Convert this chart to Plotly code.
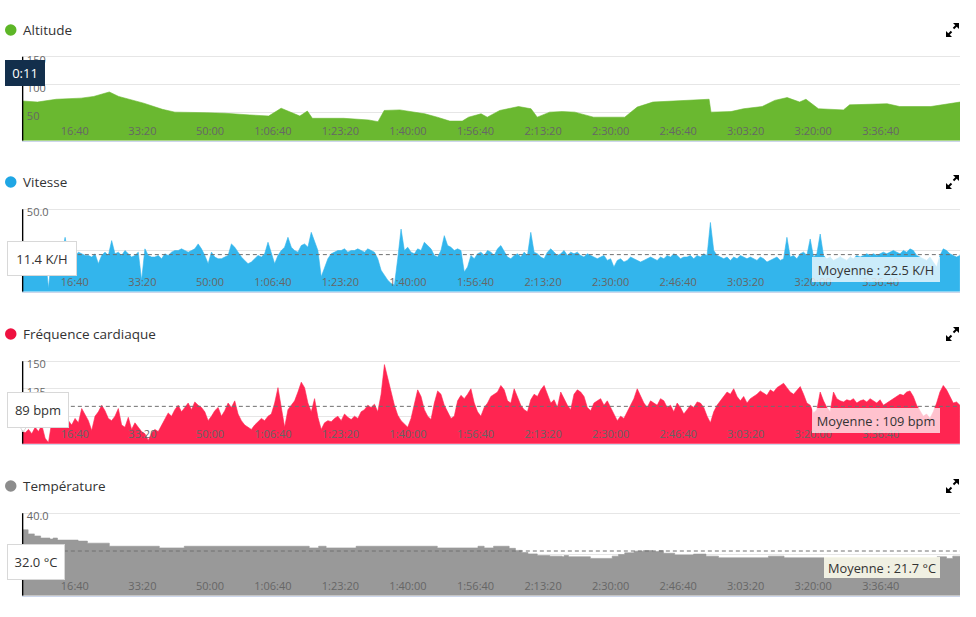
import plotly.graph_objects as go

W, H = 976, 617

# ---------------- data ----------------
tick_seconds = [1000, 2000, 3000, 4000, 5000, 6000, 7000, 8000, 9000, 10000, 11000, 12000, 13000]
tick_labels = ["16:40", "33:20", "50:00", "1:06:40", "1:23:20", "1:40:00", "1:56:40",
               "2:13:20", "2:30:00", "2:46:40", "3:03:20", "3:20:00", "3:36:40"]
duration_s = 13890

alt_time_s = [0, 231, 509, 879, 1064, 1295, 1434, 1619, 1804, 2081, 2266, 2729, 3006, 3376,
              3654, 3839, 4024, 4116, 4227, 4301, 4764, 5134, 5273, 5365, 5596, 5781, 5966,
              6151, 6336, 6521, 6614, 6799, 6891, 7076, 7354, 7539, 7631, 7816, 8001, 8186,
              8464, 8926, 9111, 9343, 9666, 9851, 10175, 10203, 10499, 10684, 10961, 11146,
              11331, 11516, 11609, 11794, 12164, 12256, 12811, 12996, 13459, 13890]
alt_m = [71, 69, 74, 76, 79, 87, 79, 73, 67, 56, 51, 50, 49, 46,
         44, 58, 48, 44, 53, 40, 40, 37, 34, 54, 55, 51, 48,
         42, 35, 35, 42, 48, 42, 54, 61, 57, 42, 51, 52, 51,
         42, 42, 60, 69, 71, 72, 74, 51, 52, 57, 61, 72,
         77, 69, 74, 57, 55, 64, 66, 61, 61, 69]

sample_step_s = 49.25
speed_kmh = [
    18, 22, 24, 23, 21, 22, 24, 23, 2, 22, 23, 24, 22, 33, 22, 23, 21, 24, 23, 22,
    22, 21, 23, 17, 22, 24, 22, 31, 23, 24, 22, 25, 23, 21, 22, 24, 7, 26, 22, 21,
    21, 22, 20, 23, 22, 24, 25, 25, 26, 25, 24, 25, 26, 29, 26, 22, 17, 24, 21, 20,
    20, 21, 22, 29, 27, 24, 21, 19, 17, 18, 20, 22, 21, 23, 30, 24, 17, 22, 25, 27,
    33, 27, 25, 24, 28, 29, 27, 36, 30, 25, 9, 15, 20, 23, 24, 25, 25, 26, 24, 25,
    25, 26, 25, 24, 26, 25, 24, 20, 13, 10, 7, 5, 4, 20, 38, 25, 27, 24, 23, 26,
    25, 30, 28, 26, 22, 21, 25, 34, 28, 27, 25, 26, 25, 12, 15, 22, 20, 23, 24, 22,
    25, 24, 22, 26, 28, 24, 21, 20, 22, 23, 21, 24, 22, 36, 24, 23, 21, 20, 24, 26,
    24, 22, 23, 25, 22, 24, 23, 24, 22, 21, 23, 22, 21, 20, 21, 22, 19, 20, 15, 19,
    20, 18, 19, 21, 20, 19, 18, 19, 20, 21, 20, 19, 21, 20, 22, 21, 23, 22, 20, 21,
    21, 22, 20, 22, 21, 23, 22, 42, 25, 22, 21, 20, 21, 19, 21, 20, 22, 21, 20, 21,
    20, 19, 21, 20, 18, 19, 20, 21, 19, 20, 33, 21, 22, 20, 23, 24, 22, 32, 21, 23,
    35, 22, 20, 21, 19, 20, 21, 20, 19, 21, 20, 22, 21, 22, 23, 22, 23, 22, 23, 24,
    23, 24, 25, 24, 23, 25, 24, 26, 25, 22, 21, 20, 19, 21, 18, 15, 22, 26, 25, 23, 22, 21, 22,
]
hr_bpm = [
    87, 85, 88, 84, 90, 86, 92, 80, 76, 95, 102, 108, 110, 100, 96, 92, 98, 94, 107, 102,
    96, 87, 100, 104, 110, 105, 98, 96, 100, 107, 92, 90, 99, 88, 94, 90, 86, 84, 78, 85,
    88, 86, 92, 98, 103, 100, 106, 110, 104, 108, 112, 106, 113, 110, 108, 104, 96, 100, 105, 108,
    100, 105, 112, 108, 114, 102, 96, 92, 90, 88, 92, 95, 98, 96, 100, 102, 112, 126, 108, 90,
    106, 110, 114, 122, 131, 126, 112, 104, 116, 99, 88, 94, 96, 95, 98, 100, 96, 102, 99, 97,
    100, 98, 104, 106, 110, 108, 111, 104, 120, 147, 135, 124, 110, 101, 96, 93, 90, 98, 110, 124,
    118, 106, 100, 97, 112, 123, 120, 110, 104, 98, 100, 114, 119, 116, 120, 125, 112, 104, 100, 108,
    112, 118, 120, 122, 128, 124, 114, 112, 125, 118, 110, 106, 104, 115, 120, 118, 124, 128, 120, 112,
    115, 108, 122, 116, 110, 106, 120, 124, 122, 118, 108, 105, 112, 114, 116, 110, 114, 108, 102, 96,
    100, 98, 104, 110, 116, 125, 118, 112, 108, 114, 112, 110, 116, 114, 108, 110, 104, 112, 108, 102,
    106, 110, 108, 113, 112, 108, 100, 94, 104, 110, 114, 118, 122, 120, 125, 118, 114, 118, 112, 116,
    118, 120, 123, 121, 119, 124, 122, 126, 128, 130, 126, 122, 120, 124, 127, 120, 112, 110, 103, 106,
    122, 114, 108, 104, 122, 116, 114, 113, 115, 114, 116, 112, 114, 115, 113, 116, 114, 112, 115, 110,
    112, 114, 116, 118, 120, 119, 122, 123, 118, 110, 105, 100, 102, 98, 104, 112, 122, 128, 124, 118, 112, 113, 110,
]

temp_time_s = [0, 93, 185, 278, 416, 463, 527, 833, 971, 1295, 2035, 2405, 4255, 4394, 4505,
               4949, 6151, 6753, 6845, 6984, 7215, 7308, 7400, 7493, 7631, 7816, 8001, 8029,
               8094, 8417, 8741, 8834, 8926, 9065, 9204, 9343, 9435, 9500, 9666, 9944, 10129,
               10314, 11054, 11285, 13551, 13690, 13783, 13890]
temp_c = [32.0, 30.0, 29.0, 28.0, 27.5, 28.0, 27.0, 26.5, 25.5, 24.0, 23.2, 24.0, 23.2, 24.0, 23.2,
          24.0, 23.2, 24.0, 23.2, 24.0, 23.0, 22.0, 21.0, 20.3, 19.5, 19.2, 18.9, 19.5,
          18.9, 18.1, 19.2, 20.0, 20.8, 21.6, 21.9, 21.4, 21.9, 20.6, 19.8, 20.2, 19.2,
          18.4, 19.2, 18.4, 18.9, 18.1, 19.2, 19.2]

avg_speed = 22.5
avg_hr = 109
avg_temp = 21.7
cursor_s = 11
cursor_label = "0:11"
cursor_speed = "11.4 K/H"
cursor_hr = "89 bpm"
cursor_temp = "32.0 °C"

sample_time_s = [i * sample_step_s for i in range(len(speed_kmh))]

# ---------------- helpers ----------------
def px(x):
    return x / W


def py(y):
    return 1 - y / H


FONT = "Open Sans"
x_dom = [px(21.85), px(960)]
EXT = 10  # px of headroom above the top gridline so its label stays visible

panels = [
    dict(title="Altitude", dot="#5db627", fill="#6ab830", top=56.7, bot=140.7, ty=30,
         yr=[0, 150], yt=[0, 50, 100, 150], yl=["0", "50", "100", "150"],
         x=alt_time_s, y=alt_m, shape="linear"),
    dict(title="Vitesse", dot="#1fa6e4", fill="#33b5ec", top=209.3, bot=291.7, ty=182,
         yr=[0, 50], yt=[0, 25, 50], yl=["0.0", "25.0", "50.0"],
         x=sample_time_s, y=speed_kmh, shape="linear"),
    dict(title="Fréquence cardiaque", dot="#ee1140", fill="#ff2551", top=361.3, bot=443.7, ty=334,
         yr=[75, 150], yt=[75, 100, 125, 150], yl=["75", "100", "125", "150"],
         x=sample_time_s, y=hr_bpm, shape="linear"),
    dict(title="Température", dot="#8c8c8c", fill="#999999", top=513.3, bot=595.7, ty=486,
         yr=[0, 40], yt=[0, 20, 40], yl=["0.0", "20.0", "40.0"],
         x=temp_time_s, y=temp_c, shape="hv"),
]

fig = go.Figure()
shapes = []
annotations = []
layout = {}

for k, p in enumerate(panels):
    n = "" if k == 0 else str(k + 1)
    upp = (p["yr"][1] - p["yr"][0]) / (p["bot"] - p["top"])
    ytop = p["yr"][1] + EXT * upp
    fig.add_trace(go.Scatter(
        x=p["x"], y=p["y"], xaxis="x" + n, yaxis="y" + n,
        mode="lines", line=dict(width=0.6, color=p["fill"], shape=p["shape"]),
        fill="tozeroy", fillcolor=p["fill"], hoverinfo="skip", showlegend=False))
    layout["xaxis" + n] = dict(
        domain=x_dom, anchor="y" + n, range=[0, duration_s],
        tickvals=tick_seconds, ticktext=tick_labels,
        ticklabelposition="inside left", ticks="", showgrid=False, zeroline=False,
        showline=True, linecolor="#ccd6eb", linewidth=1,
        tickfont=dict(family=FONT, size=11, color="#666666"), fixedrange=True)
    layout["yaxis" + n] = dict(
        domain=[py(p["bot"]), py(p["top"] - EXT)], anchor="x" + n, range=[p["yr"][0], ytop],
        tickvals=p["yt"], ticktext=p["yl"], ticklabelposition="inside", ticks="",
        showgrid=True, gridcolor="#e6e6e6", gridwidth=1, zeroline=False, showline=False,
        ticklabelshift=3, ticklabelstandoff=2,
        tickfont=dict(family=FONT, size=11, color="#666666"), fixedrange=True)

    # title dot + title
    cy = p["ty"]
    shapes.append(dict(type="circle", xref="paper", yref="paper",
                       x0=px(5), x1=px(16.5), y0=py(cy + 5.8), y1=py(cy - 5.8),
                       fillcolor=p["dot"], line=dict(width=0)))
    annotations.append(dict(text=p["title"], xref="paper", yref="paper", x=px(20.5), y=py(cy),
                            xanchor="left", yanchor="middle", showarrow=False,
                            font=dict(family=FONT, size=13.5, color="#333333")))
    # expand icon
    ic = "black"
    shapes.append(dict(type="path", xref="paper", yref="paper",
                       path=f"M {px(953)},{py(cy-7)} L {px(959)},{py(cy-7)} L {px(959)},{py(cy-1)} Z",
                       fillcolor=ic, line=dict(width=0)))
    shapes.append(dict(type="line", xref="paper", yref="paper",
                       x0=px(957), y0=py(cy - 5), x1=px(953.5), y1=py(cy - 1.5),
                       line=dict(color=ic, width=2)))
    shapes.append(dict(type="path", xref="paper", yref="paper",
                       path=f"M {px(946)},{py(cy+7)} L {px(946)},{py(cy+1)} L {px(952)},{py(cy+7)} Z",
                       fillcolor=ic, line=dict(width=0)))
    shapes.append(dict(type="line", xref="paper", yref="paper",
                       x0=px(948), y0=py(cy + 5), x1=px(951.5), y1=py(cy + 1.5),
                       line=dict(color=ic, width=2)))
    # crosshair
    shapes.append(dict(type="line", xref="x" + n, yref="y" + n,
                       x0=cursor_s, x1=cursor_s, y0=p["yr"][0], y1=p["yr"][1],
                       line=dict(color="black", width=1.5), layer="above"))

# average dashed lines
for n, v in [("2", avg_speed), ("3", avg_hr), ("4", avg_temp)]:
    shapes.append(dict(type="line", xref="x" + n + " domain", yref="y" + n,
                       x0=0, x1=1, y0=v, y1=v,
                       line=dict(color="#707070", width=1, dash="4px,3px"), layer="above"))


def box(x0, y0, x1, y1, text, bg, color, border=None, shadow=True, size=13):
    if shadow:
        shapes.append(dict(type="rect", xref="paper", yref="paper",
                           x0=px(x0 + 2), x1=px(x1 + 2), y0=py(y1 + 2), y1=py(y0 + 2),
                           fillcolor="rgba(0,0,0,0.10)", line=dict(width=0), layer="above"))
    annotations.append(dict(text=text, xref="paper", yref="paper", x=px(x0), y=py(y0),
                            xanchor="left", yanchor="top", showarrow=False,
                            width=x1 - x0, height=y1 - y0, borderpad=0,
                            bgcolor=bg, bordercolor=border or bg, borderwidth=1 if border else 0,
                            font=dict(family=FONT, size=size, color=color)))


# tooltip boxes
box(5, 60, 45, 86, cursor_label, "#132f4c", "white", shadow=False)
box(7, 241, 75, 274, cursor_speed, "white", "#333333", border="#d8d8d8")
box(7, 392, 67, 426, cursor_hr, "white", "#333333", border="#d8d8d8")
shapes.append(dict(type="path", xref="paper", yref="paper",
                   path=f"M {px(19)},{py(425)} L {px(23)},{py(432)} L {px(28)},{py(425)} Z",
                   fillcolor="white", line=dict(color="#d8d8d8", width=1), layer="above"))
box(7, 544, 63, 578, cursor_temp, "white", "#333333", border="#d8d8d8")

# average labels
box(812, 257, 940, 282, "Moyenne : %.1f K/H" % avg_speed, "rgba(255,255,255,0.75)", "#333333",
    shadow=False, size=12.8)
box(812, 408, 940, 433, "Moyenne : %d bpm" % avg_hr, "rgba(255,255,255,0.72)", "#333333",
    shadow=False, size=12.8)
box(824, 557, 940, 578, "Moyenne : %.1f °C" % avg_temp, "rgba(255,255,238,0.85)", "#333333",
    shadow=False, size=12.8)

fig.update_layout(
    width=W, height=H, margin=dict(l=0, r=0, t=0, b=0),
    paper_bgcolor="white", plot_bgcolor="white", showlegend=False,
    font=dict(family=FONT, color="#333333"),
    shapes=shapes, annotations=annotations, **layout)

fig.write_html("out.html", config={"displayModeBar": False},
               post_script="document.body.style.margin='0';document.body.style.padding='0';")
